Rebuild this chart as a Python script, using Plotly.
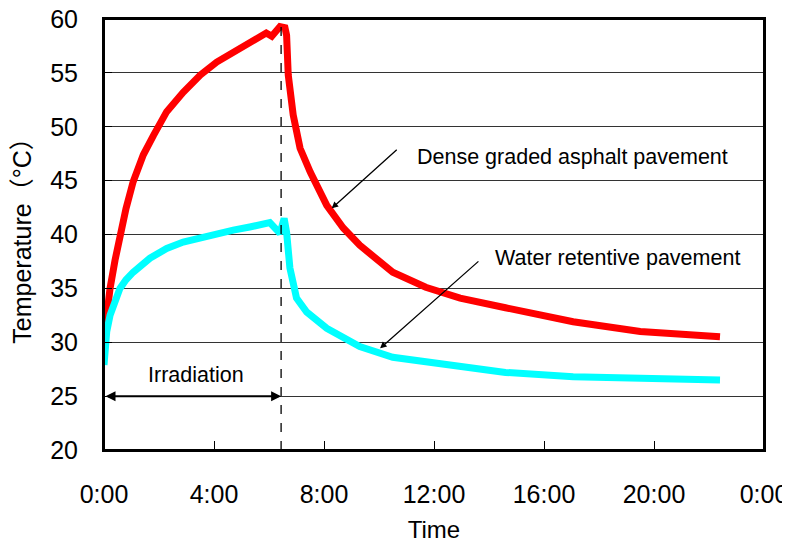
import plotly.graph_objects as go

# ---- data (hours since start, temperature in °C) ----
asphalt_t = [0, 0.05, 0.22, 0.4, 0.58, 0.8, 1.06, 1.43, 1.8, 2.28, 2.88, 3.5, 4.1, 4.7,
             5.3, 5.9, 6.1, 6.4, 6.58, 6.64, 6.7, 6.88, 7.13, 7.5, 8.1, 8.7, 9.3, 10.5,
             11.7, 12.95, 14.6, 17.06, 19.5, 21.0, 22.4]
asphalt_T = [30.3, 31.5, 35.0, 37.6, 40.0, 42.4, 44.9, 47.4, 49.2, 51.4, 53.2, 54.8, 56.0, 56.9,
             57.8, 58.7, 58.4, 59.3, 59.2, 58.5, 54.8, 51.1, 48.0, 45.8, 42.7, 40.6, 39.0, 36.5,
             35.1, 34.1, 33.2, 31.9, 31.0, 30.7, 30.5]

water_t = [0, 0.03, 0.1, 0.22, 0.4, 0.58, 0.8, 1.06, 1.67, 2.28, 2.88, 3.5, 4.1, 4.7, 5.3,
           6.03, 6.4, 6.55, 6.64, 6.76, 7.0, 7.37, 8.1, 9.3, 10.5, 11.7, 12.95, 14.6, 17.06,
           19.5, 22.4]
water_T = [27.9, 29.5, 31.0, 32.5, 34.0, 35.0, 35.8, 36.5, 37.8, 38.7, 39.3, 39.7, 40.1, 40.4, 40.7,
           41.1, 40.1, 41.5, 40.2, 36.9, 34.1, 32.8, 31.3, 29.6, 28.6, 28.2, 27.7, 27.2, 26.8,
           26.7, 26.5]

irradiation_end = 6.44
x_tick_vals = [0, 4, 8, 12, 16, 20, 24]
x_tick_text = ["0:00", "4:00", "8:00", "12:00", "16:00", "20:00", "0:00"]
y_tick_vals = [20, 25, 30, 35, 40, 45, 50, 55, 60]

FONT = "Liberation Sans, Arial, 'Noto Sans CJK JP', sans-serif"

fig = go.Figure()
fig.add_trace(go.Scatter(x=asphalt_t, y=asphalt_T, mode="lines",
                         line=dict(color="#FF0000", width=7), name="Dense graded asphalt pavement"))
fig.add_trace(go.Scatter(x=water_t, y=water_T, mode="lines",
                         line=dict(color="#00FFFF", width=7), name="Water retentive pavement"))

# dashed end-of-irradiation line
fig.add_shape(type="line", xref="x", yref="y", x0=irradiation_end, x1=irradiation_end,
              y0=20, y1=60, line=dict(color="black", width=1.3, dash="dash"))
# plot frame
fig.add_shape(type="rect", xref="paper", yref="paper", x0=0, x1=1, y0=0, y1=1,
              line=dict(color="black", width=2), layer="above")

# irradiation double arrow
fig.add_annotation(x=irradiation_end, y=25, ax=0, ay=25, xref="x", yref="y", axref="x", ayref="y",
                   text="", showarrow=True, arrowhead=2, arrowside="end+start",
                   arrowsize=1, arrowwidth=2, arrowcolor="black")
fig.add_annotation(x=3.35, y=26.95, xref="x", yref="y", text="Irradiation", showarrow=False,
                   font=dict(size=21.5, color="black", family=FONT))

# label arrows
fig.add_annotation(x=8.28, y=42.43, ax=10.70, ay=48.0, xref="x", yref="y", axref="x", ayref="y",
                   text="", showarrow=True, arrowhead=2, arrowsize=1, arrowwidth=1.3,
                   arrowcolor="black")
fig.add_annotation(x=11.31, y=47.2, xref="x", yref="y", text="Dense graded asphalt pavement",
                   showarrow=False, xanchor="left", font=dict(size=21.5, color="black", family=FONT))
fig.add_annotation(x=10.04, y=29.44, ax=13.67, ay=37.63, xref="x", yref="y", axref="x", ayref="y",
                   text="", showarrow=True, arrowhead=2, arrowsize=1, arrowwidth=1.3,
                   arrowcolor="black")
fig.add_annotation(x=14.16, y=37.8, xref="x", yref="y", text="Water retentive pavement",
                   showarrow=False, xanchor="left", font=dict(size=21.5, color="black", family=FONT))

# the page body adds an 8px offset; margins compensate for it
fig.update_layout(
    width=790, height=545,
    margin=dict(l=96, r=34, t=11, b=103),
    paper_bgcolor="white", plot_bgcolor="white",
    showlegend=False,
    font=dict(family=FONT, color="black", size=25),
    xaxis=dict(range=[0, 24], tickvals=x_tick_vals, ticktext=x_tick_text, automargin=False,
               showgrid=False, zeroline=False, showline=True, mirror=True,
               linecolor="black", linewidth=2, ticks="inside", ticklen=9, tickcolor="black",
               tickfont=dict(size=25), ticklabelstandoff=21, ticklabeloverflow="allow",
               title=dict(text="Time", font=dict(size=24), standoff=14)),
    yaxis=dict(range=[20, 60], tickvals=y_tick_vals, automargin=False,
               showgrid=True, gridcolor="#333333", gridwidth=1, zeroline=False,
               showline=True, mirror=True, linecolor="black", linewidth=2,
               ticks="inside", ticklen=8, tickcolor="black",
               tickfont=dict(size=25), ticklabelstandoff=19, ticklabeloverflow="allow",
               title=dict(text="Temperature（°C）", font=dict(size=25), standoff=15)),
)

fig.write_html("out.html")
